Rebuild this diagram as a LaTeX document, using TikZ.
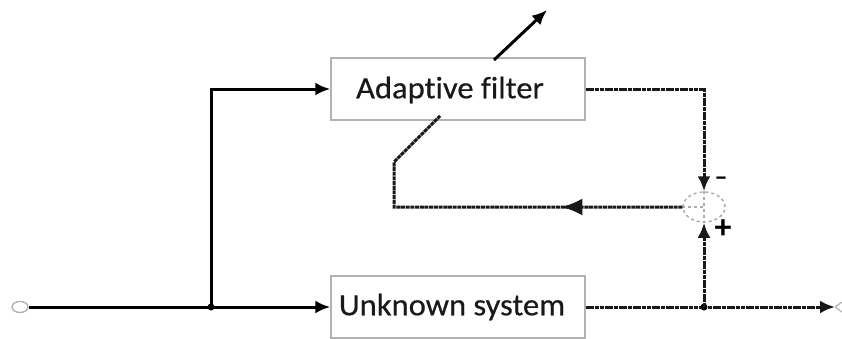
\documentclass[tikz,border=0pt]{standalone}
\usepackage{fontspec}
\setmainfont{Carlito}
\newfontfamily\lblfont[FakeStretch=1.05,FakeBold=0.5,RawFeature=-liga]{Carlito}
\usetikzlibrary{arrows.meta,shapes.geometric,decorations.markings}
\begin{document}
\begin{tikzpicture}[x=1pt,y=-1pt,
  blockbox/.style={draw=gray!60,line width=1.4pt,minimum width=254pt,minimum height=62pt,inner sep=0pt},
  blocktext/.style={font=\lblfont\fontsize{31}{33}\selectfont,text=black!90,inner sep=0pt},
  wire/.style={line width=3pt,black},
  dwire/.style={line width=3pt,black!90,dash pattern=on 4pt off 0.7pt},
  tip/.style={-{Latex[length=15pt,width=13pt]}},
  signlbl/.style={font=\bfseries\fontsize{34}{34}\selectfont,inner sep=0pt}]
\useasboundingbox (0,0) rectangle (842,338);
% blocks
\node[blockbox] (af) at (458,89) {};
\node[blocktext] (aftxt) at (450,90) {Adaptive filter};
\node[blockbox] (us) at (458,307) {};
\node[blocktext] (ustxt) at (452,307) {Unknown system};
% input terminal
\node[draw=gray!60,line width=1.4pt,ellipse,minimum width=16pt,minimum height=11pt,inner sep=0pt] (in) at (20,307) {};
% summing junction
\node[draw=gray!65,line width=1.5pt,dashed,ellipse,minimum width=42pt,minimum height=30pt,inner sep=0pt] (sum) at (704,207) {};
\draw[gray!65,line width=1.3pt,dashed] (sum.north) -- (sum.south);
\draw[gray!65,line width=1.3pt,dashed] (sum.west) -- (sum.center);
% coordinates
\coordinate (br) at (211,307);
\coordinate (jn) at (704,307);
\coordinate (fbA) at (394,207);
\coordinate (fbB) at (394,162);
\coordinate (fbC) at (440,116);
\coordinate (adS) at (494,60);
\coordinate (adE) at (547,10);
\coordinate (out) at (835,307);
% input path
\draw[wire,tip] (in.east) -- (us.west);
\draw[wire,tip] (br) |- (af.west);
\fill (br) circle (3.5pt);
% adaptive filter output to sum (minus)
\draw[dwire,tip] (af.east) -| (sum.north);
\node[signlbl,font=\bfseries\fontsize{26}{26}\selectfont] (minus) at (721,181) {–};
% unknown system output
\draw[dwire,tip] (us.east) -- (out);
\draw[gray!60,line width=1.2pt] (out) -- ++(7,-5) (out) -- ++(7,5);
\fill (jn) circle (3.5pt);
\draw[dwire,tip] (jn) -- (sum.south);
\node[signlbl] (plus) at (723,229) {+};
% error feedback
\draw[dwire,decoration={markings,mark=at position 121pt with {\arrow{Latex[length=21pt,width=17pt]}}},postaction={decorate}]
  (sum.west) -- (fbA) -- (fbB) -- (fbC);
% adaptation arrow
\draw[wire,tip] (adS) -- (adE);
\end{tikzpicture}
\end{document}
